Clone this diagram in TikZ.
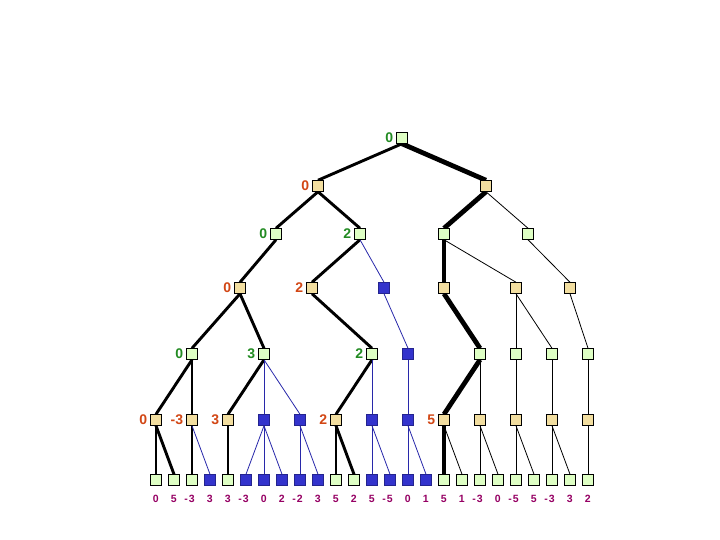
\documentclass[tikz,border=0pt]{standalone}
\usepackage{fontspec}
\setmainfont{Liberation Sans}
\usetikzlibrary{backgrounds}
\definecolor{gfill}{RGB}{222,255,196}
\definecolor{tfill}{RGB}{242,222,160}
\definecolor{bfill}{RGB}{51,51,204}
\definecolor{bline}{RGB}{40,40,170}
\definecolor{glab}{RGB}{34,139,34}
\definecolor{rlab}{RGB}{210,70,20}
\definecolor{plab}{RGB}{150,0,100}
\begin{document}
\begin{tikzpicture}[x=1pt,y=-1pt,
  box/.style={draw=black, line width=0.8pt, minimum size=11.5pt, inner sep=0pt, outer sep=0pt},
  gn/.style={box, fill=gfill},
  tn/.style={box, fill=tfill},
  bn/.style={box, fill=bfill, draw=bfill!70!black},
  labf/.style={font=\bfseries\fontsize{14}{14}\selectfont, inner sep=0pt, label distance=3pt},
  gl/.style={label={[labf, text=glab]left:#1}},
  rl/.style={label={[labf, text=rlab]left:#1}},
  leaflab/.style={font=\bfseries\fontsize{10.5}{11}\selectfont, text=plab, inner sep=0pt, anchor=base east},
  thk/.style={line width=2.9pt},
  vthk/.style={line width=4.8pt},
  thn/.style={line width=0.8pt},
  blu/.style={line width=0.8pt, draw=bline}]
\useasboundingbox (0,0) rectangle (720,540);
% level 0
\node[gn, gl=0] (n0) at (402,138) {};
% level 1
\node[tn, rl=0] (a1) at (318,186) {};
\node[tn] (a2) at (486,186) {};
% level 2
\node[gn, gl=0] (b1) at (276,234) {};
\node[gn, gl=2] (b2) at (360,234) {};
\node[gn] (b3) at (444,234) {};
\node[gn] (b4) at (528,234) {};
% level 3
\node[tn, rl=0] (c1) at (240,288) {};
\node[tn, rl=2] (c2) at (312,288) {};
\node[bn] (c3) at (384,288) {};
\node[tn] (c4) at (444,288) {};
\node[tn] (c5) at (516,288) {};
\node[tn] (c6) at (570,288) {};
% level 4
\node[gn, gl=0] (d1) at (192,354) {};
\node[gn, gl=3] (d2) at (264,354) {};
\node[gn, gl=2] (d3) at (372,354) {};
\node[bn] (d4) at (408,354) {};
\node[gn] (d5) at (480,354) {};
\node[gn] (d6) at (516,354) {};
\node[gn] (d7) at (552,354) {};
\node[gn] (d8) at (588,354) {};
% level 5
\node[tn, rl=0] (e1) at (156,420) {};
\node[tn, rl=-3] (e2) at (192,420) {};
\node[tn, rl=3] (e3) at (228,420) {};
\node[bn] (e4) at (264,420) {};
\node[bn] (e5) at (300,420) {};
\node[tn, rl=2] (e6) at (336,420) {};
\node[bn] (e7) at (372,420) {};
\node[bn] (e8) at (408,420) {};
\node[tn, rl=5] (e9) at (444,420) {};
\node[tn] (e10) at (480,420) {};
\node[tn] (e11) at (516,420) {};
\node[tn] (e12) at (552,420) {};
\node[tn] (e13) at (588,420) {};
% leaves
\foreach \i/\s/\v in {1/gn/0,2/gn/5,3/gn/-\kern1pt3,4/bn/3,5/gn/3,6/bn/-\kern1pt3,7/bn/0,8/bn/2,9/bn/-\kern1pt2,10/bn/3,11/gn/5,12/gn/2,13/bn/5,14/bn/-\kern1pt5,15/bn/0,16/bn/1,17/gn/5,18/gn/1,19/gn/-\kern1pt3,20/gn/0,21/gn/-\kern1pt5,22/gn/5,23/gn/-\kern1pt3,24/gn/3,25/gn/2}{
  \node[\s] (l\i) at ({138+18*\i},480) {};
  \node[leaflab] (t\i) at ({141+18*\i},502) {\v};
}
\begin{scope}[on background layer]
\fill[white] (0,0) rectangle (720,540);
\draw[thk] (n0.south) -- (a1.north);
\draw[vthk] (n0.south) -- (a2.north);
\draw[thk] (a1.south) -- (b1.north);
\draw[thk] (a1.south) -- (b2.north);
\draw[vthk] (a2.south) -- (b3.north);
\draw[thn] (a2.south) -- (b4.north);
\draw[thk] (b1.south) -- (c1.north);
\draw[thk] (b2.south) -- (c2.north);
\draw[blu] (b2.south) -- (c3.north);
\draw[vthk] (b3.south) -- (c4.north);
\draw[thn] (b3.south) -- (c5.north);
\draw[thn] (b4.south) -- (c6.north);
\draw[thk] (c1.south) -- (d1.north);
\draw[thk] (c1.south) -- (d2.north);
\draw[thk] (c2.south) -- (d3.north);
\draw[blu] (c3.south) -- (d4.north);
\draw[vthk] (c4.south) -- (d5.north);
\draw[thn] (c5.south) -- (d6.north);
\draw[thn] (c5.south) -- (d7.north);
\draw[thn] (c6.south) -- (d8.north);
\draw[thk] (d1.south) -- (e1.north);
\draw[thk] (d1.south) -- (e2.north);
\draw[thk] (d2.south) -- (e3.north);
\draw[blu] (d2.south) -- (e4.north);
\draw[blu] (d2.south) -- (e5.north);
\draw[thk] (d3.south) -- (e6.north);
\draw[blu] (d3.south) -- (e7.north);
\draw[blu] (d4.south) -- (e8.north);
\draw[vthk] (d5.south) -- (e9.north);
\draw[thn] (d5.south) -- (e10.north);
\draw[thn] (d6.south) -- (e11.north);
\draw[thn] (d7.south) -- (e12.north);
\draw[thn] (d8.south) -- (e13.north);
\draw[thk] (e1.south) -- (l1.north);
\draw[thk] (e1.south) -- (l2.north);
\draw[thk] (e2.south) -- (l3.north);
\draw[blu] (e2.south) -- (l4.north);
\draw[thk] (e3.south) -- (l5.north);
\draw[blu] (e4.south) -- (l6.north);
\draw[blu] (e4.south) -- (l7.north);
\draw[blu] (e4.south) -- (l8.north);
\draw[blu] (e5.south) -- (l9.north);
\draw[blu] (e5.south) -- (l10.north);
\draw[thk] (e6.south) -- (l11.north);
\draw[thk] (e6.south) -- (l12.north);
\draw[blu] (e7.south) -- (l13.north);
\draw[blu] (e7.south) -- (l14.north);
\draw[blu] (e8.south) -- (l15.north);
\draw[blu] (e8.south) -- (l16.north);
\draw[vthk] (e9.south) -- (l17.north);
\draw[thn] (e9.south) -- (l18.north);
\draw[thn] (e10.south) -- (l19.north);
\draw[thn] (e10.south) -- (l20.north);
\draw[thn] (e11.south) -- (l21.north);
\draw[thn] (e11.south) -- (l22.north);
\draw[thn] (e12.south) -- (l23.north);
\draw[thn] (e12.south) -- (l24.north);
\draw[thn] (e13.south) -- (l25.north);
\end{scope}
\end{tikzpicture}
\end{document}
